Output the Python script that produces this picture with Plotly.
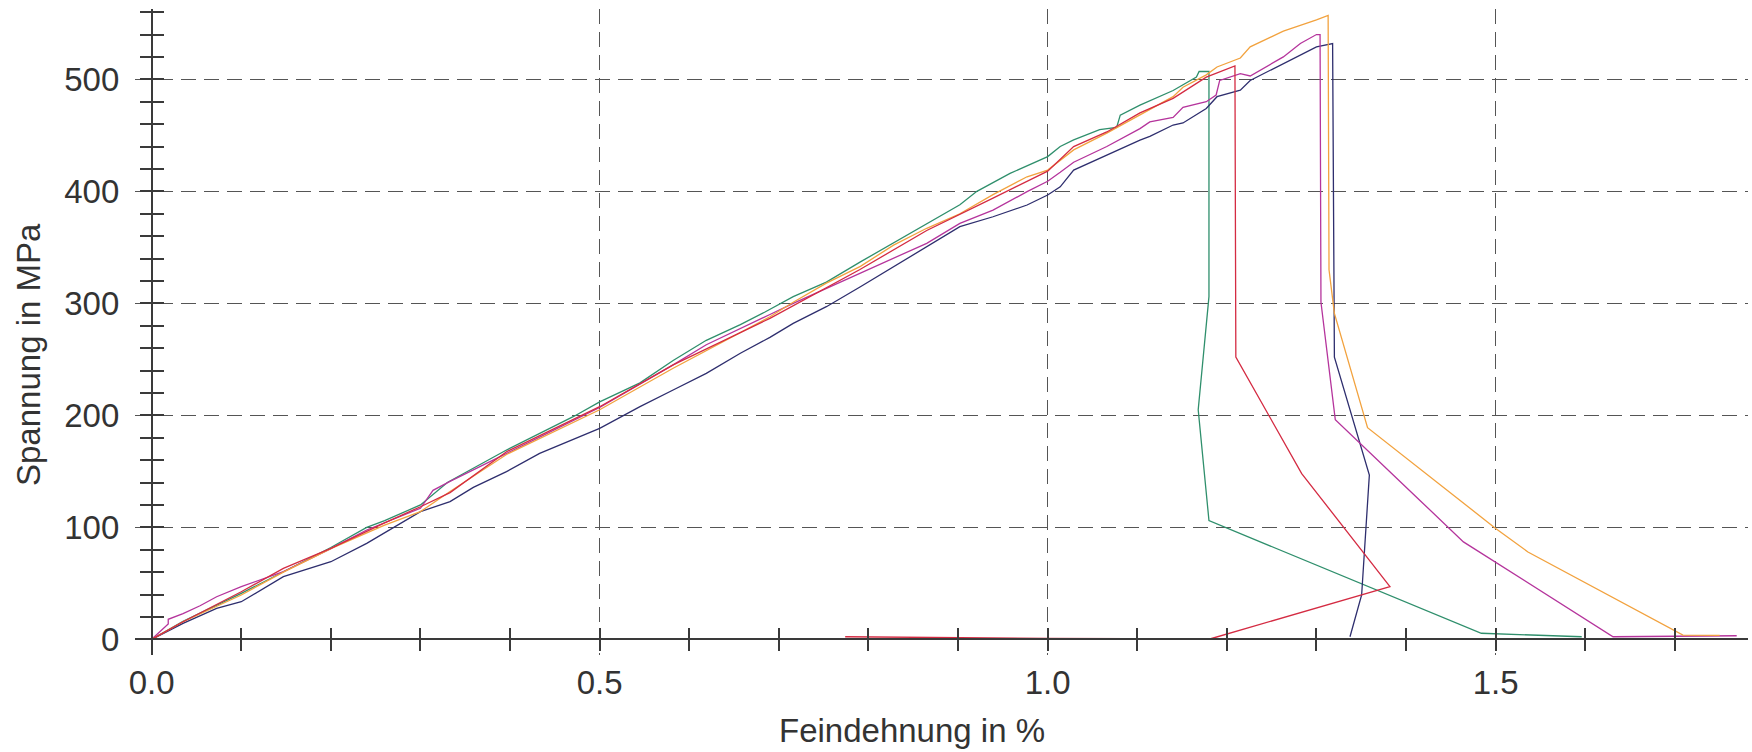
import plotly.graph_objects as go

# ---------------- data ----------------
green_x = [0, 0.035, 0.1, 0.2, 0.24, 0.26, 0.3, 0.33, 0.396, 0.471, 0.5, 0.545, 0.582, 0.619,
           0.657, 0.684, 0.716, 0.753, 0.791, 0.828, 0.865, 0.902, 0.921, 0.958, 1.0, 1.014,
           1.029, 1.058, 1.077, 1.081, 1.103, 1.140, 1.166, 1.169, 1.180,
           1.180, 1.168, 1.180, 1.484, 1.596]
green_y = [0, 16, 41, 82, 100, 106, 120, 140, 169, 199, 212, 229, 249, 267,
           281, 292, 306, 319, 337, 354, 371, 388, 400, 416, 431, 440,
           446, 455, 457, 468, 477, 490, 502, 507, 507,
           306, 205, 106, 5.4, 2.3]

orange_x = [0, 0.035, 0.1, 0.147, 0.2, 0.26, 0.3, 0.333, 0.396, 0.5, 0.582, 0.69, 0.716, 0.753,
            0.791, 0.828, 0.865, 0.902, 0.939, 0.977, 1.0, 1.014, 1.029, 1.066, 1.103, 1.140,
            1.151, 1.177, 1.189, 1.215, 1.226, 1.263, 1.300, 1.311, 1.313,
            1.314, 1.320, 1.357, 1.5, 1.536, 1.702, 1.709, 1.75]
orange_y = [0, 15.7, 39.6, 60, 81, 102, 114, 132, 165, 205, 242, 288, 301, 318,
            333, 352, 367, 380, 397, 413, 419, 428, 437, 452, 468, 484.5,
            493, 504, 511, 519, 529, 543, 553, 557, 557,
            330, 291, 189, 99, 78, 6.8, 3.8, 3.5]

red_x = [0, 0.035, 0.1, 0.147, 0.2, 0.26, 0.3, 0.333, 0.396, 0.5, 0.582, 0.69, 0.79, 0.865,
         0.939, 1.0, 1.029, 1.066, 1.103, 1.140, 1.177, 1.192, 1.209,
         1.210, 1.2835, 1.382, 1.181, 1.0, 0.774]
red_y = [0, 15.7, 42.5, 63.4, 81.2, 104, 118.4, 131, 167.5, 207.7, 245, 286.6, 330, 365,
         394, 418, 440, 453, 470, 483, 502, 507, 512,
         252, 148, 47, 0.3, 0.8, 2.3]

magenta_x = [0, 0.0185, 0.0185, 0.035, 0.054, 0.0725, 0.1, 0.11, 0.147, 0.2, 0.24, 0.3, 0.314,
             0.333, 0.396, 0.5, 0.582, 0.619, 0.69, 0.716, 0.791, 0.865, 0.902, 0.939, 0.977,
             1.0, 1.014, 1.029, 1.066, 1.103, 1.114, 1.140, 1.151, 1.177, 1.188, 1.192, 1.215,
             1.226, 1.263, 1.282, 1.300, 1.304,
             1.305, 1.321, 1.4155, 1.464, 1.631, 1.70, 1.769]
magenta_y = [0, 13.7, 17.9, 23, 30, 38, 47, 50, 60.4, 81, 97.6, 117, 133,
             141, 166, 207, 245, 263, 290, 300, 327, 353.6, 371.4, 383.3, 399.7,
             409, 417, 426, 440, 456, 462, 466, 475, 480, 486, 499, 505,
             503, 520, 532, 540, 540,
             301, 196, 124, 87, 2.3, 3, 3.2]

navy_x = [0, 0.035, 0.0725, 0.1, 0.147, 0.2, 0.24, 0.3, 0.333, 0.359, 0.396, 0.433, 0.5,
          0.545, 0.582, 0.619, 0.657, 0.690, 0.716, 0.753, 0.791, 0.828, 0.865, 0.902, 0.939,
          0.977, 1.0, 1.014, 1.029, 1.066, 1.103, 1.114, 1.140, 1.151, 1.177, 1.189, 1.215,
          1.226, 1.263, 1.300, 1.318,
          1.320, 1.359, 1.3504, 1.3374]
navy_y = [0, 14.3, 27.7, 33.6, 55.9, 69.3, 85.7, 114, 123, 135.7, 149.7, 166, 188.4,
          207.7, 222.6, 237.5, 255.4, 269.6, 282.1, 297, 314.8, 332.7, 350.5, 368.4, 377.3,
          387.8, 396.7, 404, 419, 432.4, 445.8, 449, 459.2, 461, 474, 484.5, 490.4,
          499, 514, 529, 532,
          252, 146.7, 39.6, 2.3]

x_major = [0.0, 0.5, 1.0, 1.5]
x_major_text = ["0.0", "0.5", "1.0", "1.5"]
x_minor = [round(i * 0.1, 1) for i in range(0, 18)]
y_major = [0, 100, 200, 300, 400, 500]
y_major_text = ["0", "100", "200", "300", "400", "500"]
y_minor = list(range(0, 561, 20))

X_RANGE = [-0.0186, 1.7816]
Y_RANGE = [-14.0, 562.8]

# ---------------- figure ----------------
FONT = "Liberation Sans, Arial, sans-serif"
TXT = "#333333"
AX = "#3a3a3a"
GRID = "#555555"
FS_TICK = 33
FS_TITLE = 33

fig = go.Figure()
series = [
    (green_x, green_y, "#2f8f6c"),
    (navy_x, navy_y, "#2e2e6e"),
    (magenta_x, magenta_y, "#b5349c"),
    (orange_x, orange_y, "#f2a23e"),
    (red_x, red_y, "#d42b42"),
]
for xs, ys, col in series:
    fig.add_trace(go.Scatter(x=xs, y=ys, mode="lines",
                             line=dict(color=col, width=1.3),
                             showlegend=False, hoverinfo="skip"))

# empty trace so that the overlay axes (inside tick halves) are drawn
fig.add_trace(go.Scatter(x=[], y=[], xaxis="x2", yaxis="y2", showlegend=False))

xpos = (0 - Y_RANGE[0]) / (Y_RANGE[1] - Y_RANGE[0])
ypos = (0 - X_RANGE[0]) / (X_RANGE[1] - X_RANGE[0])

fig.update_layout(
    width=1752, height=752,
    margin=dict(l=135, r=4, t=9, b=97),
    paper_bgcolor="white", plot_bgcolor="white",
    font=dict(family=FONT, size=FS_TICK, color=TXT),
    xaxis=dict(
        range=X_RANGE, anchor="free", position=xpos, automargin=False,
        showline=True, linecolor=AX, linewidth=1.5,
        tickmode="array", tickvals=x_major, ticktext=x_major_text,
        ticks="outside", ticklen=11, tickcolor=AX, tickwidth=1.5,
        ticklabelstandoff=3,
        showgrid=True, gridcolor=GRID, gridwidth=1.3, griddash="15px,8px",
        minor=dict(tickmode="array", tickvals=x_minor, ticks="outside", ticklen=11,
                   tickcolor=AX, tickwidth=1.5, showgrid=False),
        zeroline=False, tickfont=dict(size=FS_TICK, family=FONT, color=TXT),
    ),
    yaxis=dict(
        range=Y_RANGE, anchor="free", position=ypos, automargin=False,
        showline=True, linecolor=AX, linewidth=1.5,
        tickmode="array", tickvals=y_major, ticktext=y_major_text,
        ticks="outside", ticklen=11, tickcolor=AX, tickwidth=1.5,
        ticklabelstandoff=14,
        showgrid=True, gridcolor=GRID, gridwidth=1.3, griddash="15px,8px",
        minor=dict(tickmode="array", tickvals=y_minor, ticks="outside", ticklen=11,
                   tickcolor=AX, tickwidth=1.5, showgrid=False),
        zeroline=False, tickfont=dict(size=FS_TICK, family=FONT, color=TXT),
    ),
    xaxis2=dict(
        range=X_RANGE, overlaying="x", anchor="free", position=xpos, automargin=False,
        tickmode="array", tickvals=x_minor, ticks="inside", ticklen=11,
        tickcolor=AX, tickwidth=1.5, showticklabels=False,
        showgrid=False, showline=False, zeroline=False,
    ),
    yaxis2=dict(
        range=Y_RANGE, overlaying="y", anchor="free", position=ypos, automargin=False,
        tickmode="array", tickvals=y_minor, ticks="inside", ticklen=11,
        tickcolor=AX, tickwidth=1.5, showticklabels=False,
        showgrid=False, showline=False, zeroline=False,
    ),
    annotations=[
        dict(text="Feindehnung in %", xref="paper", yref="paper",
             x=(912 - 135) / 1613, y=-(730 - 655) / 646,
             xanchor="center", yanchor="middle", showarrow=False,
             font=dict(size=FS_TITLE, family=FONT, color=TXT)),
        dict(text="Spannung in MPa", xref="paper", yref="paper",
             x=(28 - 135) / 1613, y=(655 - 355) / 646, textangle=-90,
             xanchor="center", yanchor="middle", showarrow=False,
             font=dict(size=FS_TITLE, family=FONT, color=TXT)),
    ],
)

fig.write_html(
    "out.html",
    config={"displayModeBar": False},
    post_script="document.body.style.margin='0';document.body.style.padding='0';"
                "document.body.style.overflow='hidden';",
)
